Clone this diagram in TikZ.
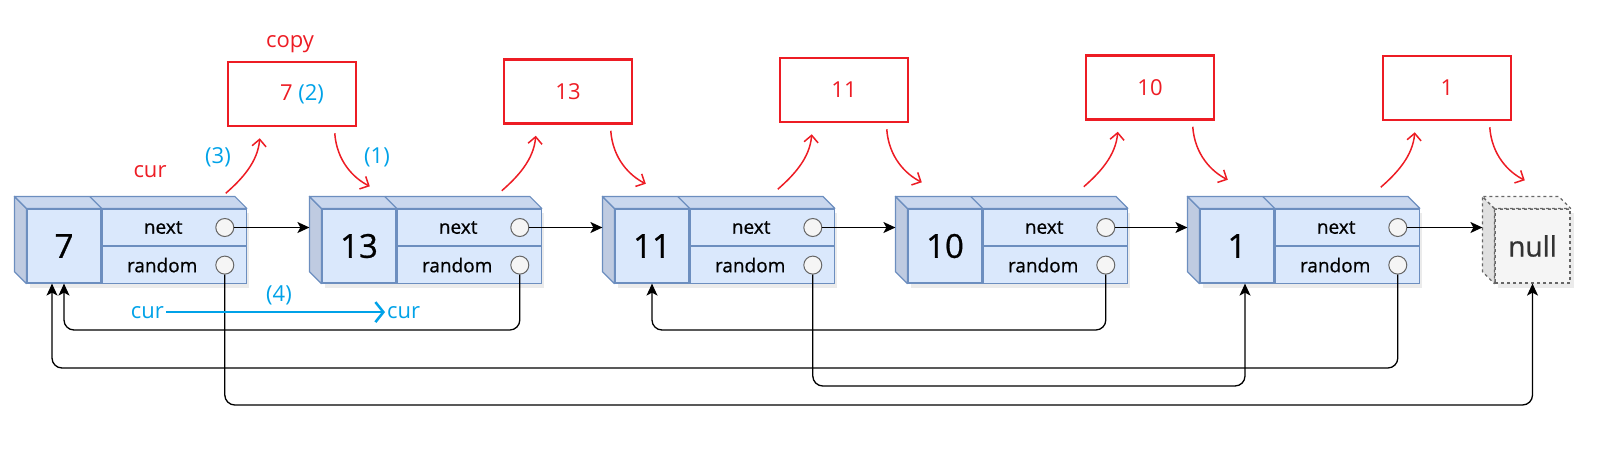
\documentclass[tikz,border=0pt]{standalone}
\usepackage{fontspec}
\setmainfont{Open Sans}
\newfontfamily\cellfont[FakeBold=0.8]{Open Sans}
\usepackage{xcolor}
\usetikzlibrary{arrows.meta}
\usetikzlibrary{positioning,calc}

\definecolor{cellfill}{HTML}{DAE8FC}
\definecolor{cellline}{HTML}{6C8EBF}
\definecolor{celltop}{HTML}{C9D7EE}
\definecolor{cellside}{HTML}{BFCBE1}
\definecolor{nullfill}{HTML}{F5F5F5}
\definecolor{nullside}{HTML}{E0E0E0}
\definecolor{cred}{HTML}{ED1C24}
\definecolor{cblue}{HTML}{00A2E8}

\begin{document}
\begin{tikzpicture}[x=1pt, y=-1pt,
    valcell/.style={rectangle, draw=cellline, fill=cellfill, line width=1.2pt,
      minimum width=74pt, minimum height=74pt, inner sep=0pt, font=\cellfont\fontsize{33}{33}\selectfont},
    ptrcell/.style={rectangle, draw=cellline, fill=cellfill, line width=1.2pt,
      minimum width=144pt, minimum height=37pt, inner sep=0pt},
    celltext/.style={font=\cellfont\fontsize{19}{19}\selectfont},
    topface/.style={draw=cellline, fill=celltop, line width=1.2pt, line join=round},
    sideface/.style={draw=cellline, fill=cellside, line width=1.2pt, line join=round},
    dot/.style={circle, draw=black!60, fill=black!4, line width=1pt, minimum size=18pt, inner sep=0pt},
    nullcell/.style={rectangle, draw=black!60, fill=nullfill, dashed, line width=1.2pt,
      minimum width=75pt, minimum height=74pt, inner sep=0pt, text=black!80, font=\cellfont\fontsize{28}{28}\selectfont},
    nullface/.style={draw=black!60, fill=nullside, dashed, line width=1.2pt, line join=round},
    link/.style={draw=black, line width=1.3pt, -{Stealth[length=12pt, width=11pt, inset=3pt]}},
    copybox/.style={rectangle, draw=cred, line width=2.5pt, minimum width=128pt, minimum height=64pt,
      text=cred, font=\fontsize{22}{22}\selectfont},
    redtext/.style={text=cred, font=\fontsize{22}{22}\selectfont},
    bluetext/.style={text=cblue, font=\fontsize{22}{22}\selectfont},
    redarrow/.style={draw=cred, line width=1.5pt, -{Straight Barb[length=7pt, width=14pt]}},
    bluearrow/.style={draw=cblue, line width=2.5pt, -{Straight Barb[length=8pt, width=20pt]}},
  ]
  \useasboundingbox (0,0) rectangle (1599,459);

  % list nodes
  \foreach \v/\x in {7/27, 13/322, 11/615, 10/908, 1/1200} {
    \fill[black, opacity=0.08] (\x+3,213) rectangle (\x+222,288);
    \node[valcell] (v\v) at (\x+37,246) {\v};
    \node[ptrcell, anchor=north west, label={[celltext, xshift=-11]center:next}] (n\v) at (v\v.north east) {};
    \node[ptrcell, anchor=north west, label={[celltext, xshift=-12]center:random}] (r\v) at (v\v.east) {};
    \filldraw[sideface] (v\v.north west) -- ++(-12,-12) -- ([shift={(-12,-12)}]v\v.south west) -- (v\v.south west) -- cycle;
    \filldraw[topface] (v\v.north west) -- ++(-12,-12) -- ([shift={(-12,-12)}]n\v.north east) -- (n\v.north east) -- cycle;
    \draw[cellline, line width=1.2pt] (v\v.north east) -- ++(-12,-12);
    \node[dot] (cn\v) at ([xshift=-22]n\v.east) {};
    \node[dot] (cr\v) at ([xshift=-22]r\v.east) {};
    \coordinate (b\v) at ([xshift=-12]v\v.west);
  }

  % null
  \fill[black, opacity=0.08] (1498,213) rectangle (1574,288);
  \node[nullcell] (vnull) at (1532.5,246) {null};
  \filldraw[nullface] (vnull.north west) -- ++(-12,-12) -- ([shift={(-12,-12)}]vnull.south west) -- (vnull.south west) -- cycle;
  \filldraw[nullface, fill=nullfill] (vnull.north west) -- ++(-12,-12) -- ([shift={(-12,-12)}]vnull.north east) -- (vnull.north east) -- cycle;
  \coordinate (bnull) at ([xshift=-12]vnull.west);

  % next pointers
  \foreach \a/\b in {7/13, 13/11, 11/10, 10/1, 1/null}
    \draw[link] (cn\a.east) -- (cn\a -| b\b);

  % random pointers
  \coordinate (lvlA) at (0,330);
  \coordinate (lvlB) at (0,368);
  \coordinate (lvlC) at (0,386);
  \coordinate (lvlD) at (0,405);
  \coordinate (t7) at ([xshift=-12]v7.south);
  \coordinate (t1) at ([xshift=8]v1.south);
  \draw[link, rounded corners=10] (cr13.south) |- (v7.south |- lvlA) -- (v7.south);
  \draw[link, rounded corners=10] (cr10.south) |- (v11.south |- lvlA) -- (v11.south);
  \draw[link, rounded corners=10] (cr1.south) |- (t7 |- lvlB) -- (t7);
  \draw[link, rounded corners=10] (cr11.south) |- (t1 |- lvlC) -- (t1);
  \draw[link, rounded corners=10] (cr7.south) |- (vnull.south |- lvlD) -- (vnull.south);

  % copies
  \node[copybox, label={[redtext, xshift=10]center:7 \textcolor{cblue}{(2)}}] (c7) at (292,94) {};
  \node[copybox] (c13) at (568,91.5) {13};
  \node[copybox] (c11) at (844,90) {11};
  \node[copybox] (c10) at (1150,87.5) {10};
  \node[copybox] (c1) at (1447,88) {1};

  \foreach \c in {7,13,11,10,1} {
    \draw[redarrow] ([shift={(-1,66)}]c\c.south west) .. controls +(16,-14) and +(-2,24) .. ([shift={(33,11)}]c\c.south west);
    \draw[redarrow] ([shift={(108,6)}]c\c.south west) .. controls +(2,28) and +(-16,-8) .. ([shift={(143,59)}]c\c.south west);
  }

  % labels
  \node[redtext, anchor=base] (copylbl) at (290,47) {copy};
  \node[redtext, anchor=base] (curlbl) at (150,177) {cur};
  \node[bluetext] (s3) at (218,157) {(3)};
  \node[bluetext] (s1) at (377,157) {(1)};
  \node[bluetext] (s4) at (279,295) {(4)};
  \node[bluetext, anchor=base east, inner sep=2pt] (curA) at (166,318) {cur};
  \node[bluetext, anchor=base west, inner sep=2pt] (curB) at (385,318) {cur};
  \draw[bluearrow] (curA.east) -- (curB.west);

\end{tikzpicture}
\end{document}
